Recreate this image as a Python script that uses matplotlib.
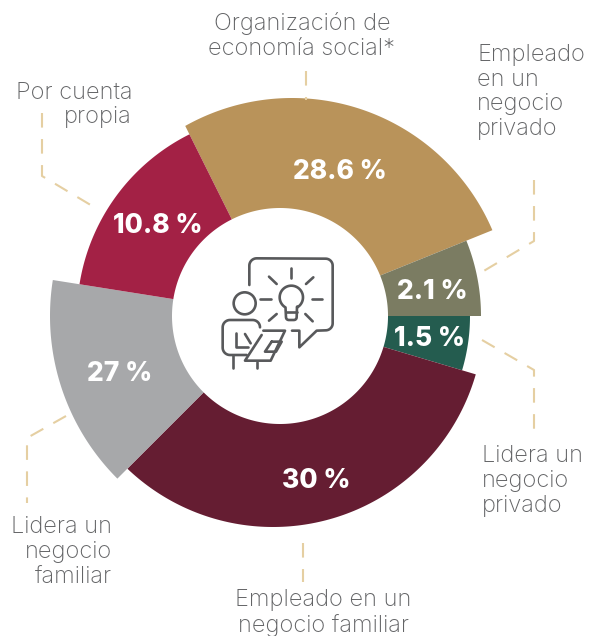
import numpy as np
import matplotlib
matplotlib.use("Agg")
import matplotlib.pyplot as plt
from matplotlib.patches import Polygon, Circle

# Data
categories = ["Organización de\neconomía social*", "Empleado\nen un\nnegocio\nprivado",
              "Lidera un\nnegocio\nprivado", "Empleado en un\nnegocio familiar",
              "Lidera un\nnegocio\nfamiliar", "Por cuenta\npropia"]
values = [28.6, 2.1, 1.5, 30, 27, 10.8]
value_labels = ["28.6 %", "2.1 %", "1.5 %", "30 %", "27 %", "10.8 %"]
# The drawn wedges in the reference are not proportional to the values
start_deg = [22, 0, -16.6, -135, 171, 116.5]
end_deg = [116.5, 22, 0, -16.6, 225, 171]
outer_r = [218, 201, 190, 211, 230, 203]
outer_cx = [292, 280, 280, 273, 280, 280]
colors = ["#b9935a", "#7b7c62", "#245c4f", "#651d32", "#a7a8aa", "#a32145"]

CX, CY, R_IN = 280, 316, 108
TXT = "#636466"
DASH = "#e5cfa2"
ICON = "#58595b"
FONT = "Inter"

fig = plt.figure(figsize=(5.89, 6.36), dpi=100)
ax = fig.add_axes([0, 0, 1, 1])
ax.set_xlim(0, 589)
ax.set_ylim(636, 0)
ax.axis("off")

def wedge(a0, a1, r, cx, color):
    t = np.radians(np.linspace(a0, a1, 120))
    d = np.cos(t) * (cx - CX)
    rr = d + np.sqrt(r**2 - (np.sin(t) * (cx - CX))**2)
    ox, oy = CX + rr * np.cos(t), CY - rr * np.sin(t)
    ix, iy = CX + R_IN * np.cos(t[::-1]), CY - R_IN * np.sin(t[::-1])
    ax.add_patch(Polygon(np.c_[np.r_[ox, ix], np.r_[oy, iy]], closed=True, fc=color, ec="none"))

for a0, a1, r, cx, c in zip(start_deg, end_deg, outer_r, outer_cx, colors):
    wedge(a0, a1, r, cx, c)

# Value labels
val_pos = [(340, 172), (432, 292), (429, 339), (316, 481), (120, 374), (158, 226)]
for (x, y), s in zip(val_pos, value_labels):
    ax.text(x, y, s, color="white", fontsize=19, fontweight=800,
            family="Inter", ha="center", va="center")

# Category labels
cat_pos = [(302, 36, "center"), (477, 92, "left"), (482, 481, "left"),
           (323, 613, "center"), (112, 552, "right"), (132, 105, "right")]
for (x, y, ha), s in zip(cat_pos, categories):
    ax.text(x, y, s, color=TXT, fontsize=17, family=FONT, fontweight="light",
            ha=ha, va="center", linespacing=1.16, multialignment=ha)

# Dashed leader lines
leaders = [[(306, 71), (306, 100)],
           [(534, 180), (534, 241), (482, 272)],
           [(482, 340), (534, 370), (534, 433)],
           [(303, 543), (303, 582)],
           [(66, 416), (27, 438), (27, 503)],
           [(42, 113), (42, 176), (94, 207)]]
for l in leaders:
    xs, ys = zip(*l)
    ax.plot(xs, ys, color=DASH, lw=1.5, dashes=(7, 5.5))

# Central icon (zoom-crop coordinates, 3x, origin 200,240)
def P(pts):
    a = np.array(pts, float)
    return 200 + a[:, 0] / 3, 240 + a[:, 1] / 3

def arc(cx, cy, r, a0, a1, n=12):
    t = np.radians(np.linspace(a0, a1, n))
    return list(zip(cx + r * np.cos(t), cy - r * np.sin(t)))

def stroke(pts, lw=1.9):
    x, y = P(pts)
    ax.plot(x, y, color=ICON, lw=lw, solid_capstyle="round", solid_joinstyle="round")

stroke([(148, 135)] + arc(170, 77, 22, 180, 90) + arc(377, 77, 21, 90, 0) + arc(377, 250, 21, 0, -90)
       + [(350, 272), (298, 322), (298, 272), (276, 272)])
for seg in [[(274, 85), (274, 115)], [(318, 132), (340, 112)], [(335, 178), (367, 178)],
            [(316, 222), (338, 244)], [(207, 242), (230, 222)], [(207, 110), (230, 132)],
            [(180, 176), (212, 176)]]:
    stroke(seg)
stroke(arc(274, 172, 35, -60, 240, 40) + [(258, 232)] + arc(266, 232, 8, 180, 270, 5)
       + arc(282, 232, 8, 270, 360, 5) + [(291, 200)])
stroke([(258, 216), (290, 216)])
x, y = P([(134, 190)])
ax.add_patch(Circle((x[0], y[0]), 11, fc="none", ec=ICON, lw=1.9))
stroke([(140, 345)] + arc(90, 323, 22, 270, 180) + arc(90, 262, 22, 180, 90) + arc(158, 262, 22, 90, 0))
stroke([(107, 280), (107, 320), (145, 320)])
stroke([(135, 282), (152, 310)])
stroke([(100, 345), (100, 385)])
stroke([(172, 365), (172, 385)])
stroke([(190, 272), (255, 272), (212, 362), (135, 362), (185, 285)])
stroke([(215, 305), (245, 305), (228, 335), (195, 335), (215, 305)])

fig.savefig("out.png", dpi=100)
